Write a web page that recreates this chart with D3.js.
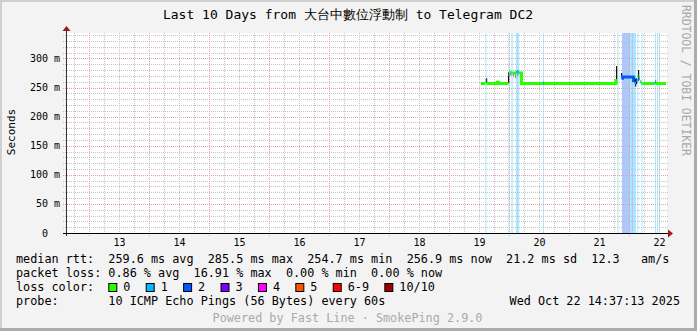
<!DOCTYPE html>
<html>
<head>
<meta charset="utf-8">
<script src="https://cdn.jsdelivr.net/npm/d3@7/dist/d3.min.js"></script>
<style>
  html, body { margin: 0; padding: 0; background: #f3f3f3; }
  svg { display: block; }
  text { font-family: "DejaVu Sans Mono", monospace; white-space: pre; }
</style>
</head>
<body>
<svg id="chart" width="697" height="331"></svg>
<script>
// --- Data ---
const titleText = "Last 10 Days from 大台中數位浮動制 to Telegram DC2";
const endTime = new Date(2025, 9, 22, 14, 37, 13);
const baseTime = new Date(2025, 9, 19, 0, 0, 0); // hours below are counted from here

const yTickValues = [0, 50, 100, 150, 200, 250, 300];
const yTickLabels = ["0  ", "50 m", "100 m", "150 m", "200 m", "250 m", "300 m"];

const lossColors = ["#26ff00", "#00b8ff", "#0059ff", "#7e00ff", "#ff00ff", "#ff5500", "#ff0000", "#a10000"];
const lossLabels = ["0", "1", "2", "3", "4", "5", "6-9", "10/10"];

// median rtt (ms), each value holds until the next hour mark; loss = legend bucket
const medianHours = [12.6, 14.4, 14.8, 19.2, 19.6, 23.6, 24.0, 24.8, 25.2, 26.6, 27.8, 28.8, 37.4, 37.8,
                     66.6, 67.0, 68.8, 69.2, 73.6, 74.0, 74.6, 75.2, 75.6, 76.2, 76.8, 77.2, 82.2, 82.6, 86.62];
const medianMs    = [257, 262, 257, 259, 257, 272, 276, 274, 275, 277, 275, 257, 257, 257,
                     262, NaN, 266, 268, 262, 258, 262, 270, 265, 260, 257, 257, 259, 257, NaN];
const medianLoss  = [0, 1, 0, 0, 0, 1, 0, 1, 0, 1, 0, 0, 1, 0,
                     0, 0, 2, 2, 2, 1, 2, 0, 1, 0, 1, 0, 1, 0, 0];

// smoke (spread of the pings) per step
const smokeHours = [14.6, 23.4, 24.4, 25.6, 26.2, 27.2, 28.4, 37.5, 66.6, 68.6, 73.8, 74.2, 74.6, 75.4, 82.2];
const smokeLo    = [258, 258, 270, 268, 266, 270, 258, 255, 258, 268, 258, 252, 256, 262, 257];
const smokeHi    = [266, 276, 279, 277, 275, 280, 277, 260, 287, 275, 268, 265, 266, 280, 262];
const smokeDark  = [1, 1, 0, 0, 0, 0, 1, 1, 1, 1, 1, 1, 1, 1, 1];

// loss background bands
const bandStart = [14.4, 23.6, 24.8, 26.6, 37.4, 67.2, 69.0, 70.6, 71.4, 72.2, 73.0, 73.4, 75.2, 76.8, 82.2, 83.0, 83.8];
const bandEnd   = [14.8, 24.0, 25.3, 27.9, 37.8, 67.6, 70.6, 71.4, 72.2, 73.0, 73.4, 74.6, 75.6, 77.2, 82.6, 83.4, 84.2];
const bandLoss  = [1, 1, 1, 1, 1, 1, 2, 2, 2, 1, 2, 1, 1, 1, 1, 1, 1];

const legendLines = [
  "median rtt:  259.6 ms avg  285.5 ms max  254.7 ms min  256.9 ms now  21.2 ms sd  12.3   am/s",
  "packet loss: 0.86 % avg  16.91 % max  0.00 % min  0.00 % now",
  "loss color:",
  "probe:       10 ICMP Echo Pings (56 Bytes) every 60s"
];
const dateText = "Wed Oct 22 14:37:13 2025";
const poweredText = "Powered by Fast Line · SmokePing 2.9.0";
const watermark = "RRDTOOL / TOBI OETIKER";
const yAxisTitle = "Seconds";

// --- Layout ---
const W = 697, H = 331;
const plot = { left: 66, right: 666, top: 33, bottom: 233 };

const svg = d3.select("#chart");

const hourToDate = h => new Date(baseTime.getTime() + h * 3600e3);
const xScale = d3.scaleTime()
  .domain([new Date(endTime.getTime() - 10 * 86400e3), endTime])
  .range([plot.left, plot.right]);
const yScale = d3.scaleLinear().domain([0, 343.8]).range([plot.bottom, plot.top]);

// background + 3d border
svg.append("rect").attr("width", W).attr("height", H).attr("fill", "#f3f3f3");
svg.append("rect").attr("x", 0).attr("y", 0).attr("width", W).attr("height", 2).attr("fill", "#cfcfcf");
svg.append("rect").attr("x", 0).attr("y", 0).attr("width", 2).attr("height", H).attr("fill", "#cfcfcf");
svg.append("rect").attr("x", 0).attr("y", H - 3).attr("width", W).attr("height", 3).attr("fill", "#ababab");
svg.append("rect").attr("x", W - 3).attr("y", 0).attr("width", 3).attr("height", H).attr("fill", "#ababab");

// canvas
svg.append("rect")
  .attr("x", plot.left).attr("y", plot.top)
  .attr("width", plot.right - plot.left + 1).attr("height", plot.bottom - plot.top)
  .attr("fill", "#ffffff");

// loss bands
svg.append("g").selectAll("rect")
  .data(bandStart.map((s, i) => ({ s, e: bandEnd[i], l: bandLoss[i] })))
  .enter().append("rect")
  .attr("x", d => xScale(hourToDate(d.s)))
  .attr("width", d => xScale(hourToDate(d.e)) - xScale(hourToDate(d.s)))
  .attr("y", plot.top)
  .attr("height", plot.bottom - plot.top)
  .attr("fill", d => lossColors[d.l])
  .attr("fill-opacity", 0.33);

// grid
const grid = svg.append("g").attr("shape-rendering", "crispEdges");
const minorY = d3.range(10, 341, 10).filter(v => v % 50 !== 0);
const majorY = d3.range(50, 341, 50);
grid.selectAll(".hminor").data(minorY).enter().append("line")
  .attr("x1", plot.left - 3).attr("x2", plot.right + 2)
  .attr("y1", d => Math.round(yScale(d)) + 0.5).attr("y2", d => Math.round(yScale(d)) + 0.5)
  .attr("stroke", "#c4c4c4").attr("stroke-dasharray", "1,1");
grid.selectAll(".hmajor").data(majorY).enter().append("line")
  .attr("x1", plot.left - 3).attr("x2", plot.right + 2)
  .attr("y1", d => Math.round(yScale(d)) + 0.5).attr("y2", d => Math.round(yScale(d)) + 0.5)
  .attr("stroke", "#e3a3a3").attr("stroke-dasharray", "1,1");

const sixHours = d3.timeHour.every(6).range(xScale.domain()[0], endTime).filter(d => d.getHours() !== 0);
const midnights = d3.timeDay.range(xScale.domain()[0], endTime);
grid.selectAll(".vminor").data(sixHours).enter().append("line")
  .attr("x1", d => Math.round(xScale(d)) + 0.5).attr("x2", d => Math.round(xScale(d)) + 0.5)
  .attr("y1", plot.top).attr("y2", plot.bottom + 2)
  .attr("stroke", "#c4c4c4").attr("stroke-dasharray", "1,1");
grid.selectAll(".vmajor").data(midnights).enter().append("line")
  .attr("x1", d => Math.round(xScale(d)) + 0.5).attr("x2", d => Math.round(xScale(d)) + 0.5)
  .attr("y1", plot.top).attr("y2", plot.bottom + 3)
  .attr("stroke", "#e3a3a3").attr("stroke-dasharray", "1,1");

// smoke
svg.append("g").selectAll("rect")
  .data(smokeHours.map((h, i) => ({ h, lo: smokeLo[i], hi: smokeHi[i], dark: smokeDark[i] })))
  .enter().append("rect")
  .attr("x", d => Math.round(xScale(hourToDate(d.h))))
  .attr("width", 1.2)
  .attr("y", d => yScale(d.hi))
  .attr("height", d => yScale(d.lo) - yScale(d.hi))
  .attr("fill", d => d.dark ? "#111111" : "#9a9a9a");

// median line, split into runs of the same loss colour
const runs = [];
for (let i = 0; i < medianHours.length - 1; i++) {
  if (isNaN(medianMs[i])) continue;
  const last = runs[runs.length - 1];
  const pt = { h: medianHours[i], v: medianMs[i] };
  if (last && last.loss === medianLoss[i] && last.endIndex === i) {
    last.pts.push(pt);
  } else {
    runs.push({ loss: medianLoss[i], pts: [pt] });
  }
  const r = runs[runs.length - 1];
  r.endIndex = i + 1;
  r.endH = medianHours[i + 1];
  r.endV = medianMs[i];
}
const stepLine = d3.line()
  .x(d => xScale(hourToDate(d.h)))
  .y(d => yScale(d.v))
  .curve(d3.curveStepAfter);
svg.append("g").selectAll("path")
  .data(runs)
  .enter().append("path")
  .attr("d", r => stepLine(r.pts.concat([{ h: r.endH, v: r.endV }])))
  .attr("fill", "none")
  .attr("stroke", r => lossColors[r.loss])
  .attr("stroke-width", 3);

// axes
const axis = svg.append("g").attr("shape-rendering", "crispEdges");
axis.append("line")
  .attr("x1", plot.left + 0.5).attr("x2", plot.left + 0.5)
  .attr("y1", plot.bottom + 3).attr("y2", plot.top - 2)
  .attr("stroke", "#333");
axis.append("line")
  .attr("x1", plot.left - 3).attr("x2", plot.right + 3)
  .attr("y1", plot.bottom + 0.5).attr("y2", plot.bottom + 0.5)
  .attr("stroke", "#000");
svg.append("path")
  .attr("d", `M${plot.left - 3.5},${plot.top - 2} L${plot.left + 0.5},${plot.top - 7} L${plot.left + 4.5},${plot.top - 2} Z`)
  .attr("fill", "#a01818");
svg.append("path")
  .attr("d", `M${plot.right + 2},${plot.bottom - 3.5} L${plot.right + 7},${plot.bottom + 0.5} L${plot.right + 2},${plot.bottom + 4.5} Z`)
  .attr("fill", "#a01818");

// y tick labels
svg.append("g").selectAll("text")
  .data(yTickValues)
  .enter().append("text")
  .attr("x", 60)
  .attr("y", d => yScale(d) + 3.5)
  .attr("text-anchor", "end")
  .attr("font-size", 10)
  .attr("fill", "#000")
  .text((d, i) => yTickLabels[i]);

// x tick labels at noon of each day
const noons = midnights.map(d => d3.timeHour.offset(d, 12)).filter(d => d <= endTime);
svg.append("g").selectAll("text")
  .data(noons)
  .enter().append("text")
  .attr("x", d => xScale(d))
  .attr("y", 246)
  .attr("text-anchor", "middle")
  .attr("font-size", 10)
  .attr("fill", "#000")
  .text(d => d3.timeFormat("%d")(d).replace(/^0/, ""));

// title
svg.append("text")
  .attr("x", 348).attr("y", 19)
  .attr("text-anchor", "middle")
  .attr("font-size", 13)
  .attr("fill", "#000")
  .text(titleText);

// y axis title
svg.append("text")
  .attr("transform", "translate(15,132) rotate(-90)")
  .attr("text-anchor", "middle")
  .attr("font-size", 11)
  .attr("fill", "#000")
  .text(yAxisTitle);

// watermark
svg.append("text")
  .attr("transform", "translate(681.5,5) rotate(90)")
  .attr("font-size", 11.4)
  .attr("fill", "#a8a8a8")
  .text(watermark);

// legend
const legendY = [263, 277, 291, 305];
const legendSize = 11.8;
svg.append("g").selectAll("text")
  .data(legendLines)
  .enter().append("text")
  .attr("x", 16)
  .attr("y", (d, i) => legendY[i])
  .attr("font-size", legendSize)
  .attr("fill", "#000")
  .text(d => d);

const charW = legendSize * 0.602;
let cursor = 108.3;
const lossLegend = svg.append("g");
lossLabels.forEach((lab, i) => {
  lossLegend.append("rect")
    .attr("x", cursor + 0.5).attr("y", 283.5)
    .attr("width", 8).attr("height", 8)
    .attr("fill", lossColors[i]).attr("stroke", "#000").attr("stroke-width", 1);
  lossLegend.append("text")
    .attr("x", cursor + 15).attr("y", legendY[2])
    .attr("font-size", legendSize).attr("fill", "#000")
    .text(lab);
  cursor += 15 + lab.length * charW + 15.3;
});

svg.append("text")
  .attr("x", 680).attr("y", legendY[3])
  .attr("text-anchor", "end")
  .attr("font-size", legendSize)
  .attr("fill", "#000")
  .text(dateText);

svg.append("text")
  .attr("x", 347.5).attr("y", 322)
  .attr("text-anchor", "middle")
  .attr("font-size", legendSize)
  .attr("fill", "#aaaaaa")
  .text(poweredText);
</script>
</body>
</html>
